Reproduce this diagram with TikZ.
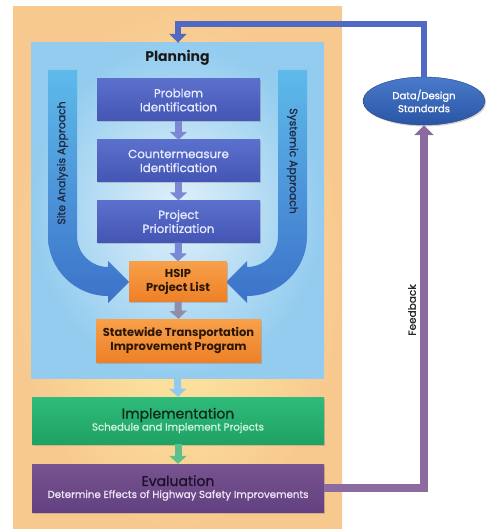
\documentclass[tikz,border=0pt]{standalone}
\usepackage{fontspec}
\setmainfont{Poppins}
\newfontfamily\medfont{Poppins}[FakeBold=1]
\usetikzlibrary{arrows.meta,shadows,shapes.geometric}
\definecolor{outerpeach}{HTML}{F8C98F}
\definecolor{outeryellow}{HTML}{FDF2A6}
\definecolor{planout}{HTML}{93CCEF}
\definecolor{planin}{HTML}{E2F1FA}
\definecolor{bluetop}{HTML}{5B70CC}
\definecolor{bluebot}{HTML}{4455B3}
\definecolor{bluetext}{HTML}{E6EAFF}
\definecolor{smallarr}{HTML}{7C88D4}
\definecolor{orangetop}{HTML}{F7A04A}
\definecolor{orangebot}{HTML}{EE8027}
\definecolor{orangetext}{HTML}{2B1705}
\definecolor{grayarr}{HTML}{8E8EA8}
\definecolor{lightbluearr}{HTML}{92C9EE}
\definecolor{greentop}{HTML}{2FBB7A}
\definecolor{greenbot}{HTML}{1FA264}
\definecolor{greentitle}{HTML}{0F2A1C}
\definecolor{greensub}{HTML}{D0F2DE}
\definecolor{greenarr}{HTML}{5DC08C}
\definecolor{purpletop}{HTML}{77538F}
\definecolor{purplebot}{HTML}{634080}
\definecolor{purpletitle}{HTML}{1C0F2A}
\definecolor{purplesub}{HTML}{EDE4F5}
\definecolor{feedline}{HTML}{8B6BA0}
\definecolor{topline}{HTML}{5069C2}
\definecolor{bandtop}{HTML}{5EBAEA}
\definecolor{bandbot}{HTML}{3C72C9}
\definecolor{elltop}{HTML}{4A7ACB}
\definecolor{ellbot}{HTML}{2A55A5}
\definecolor{labeltext}{HTML}{1E2A44}
\begin{document}
\begin{tikzpicture}[x=1pt,y=-1pt,
  boxshadow/.style={drop shadow={shadow xshift=1.2pt,shadow yshift=-1.5pt,opacity=0.35}},
  bluebox/.style={rectangle, minimum width=163pt, minimum height=42pt, top color=bluetop, bottom color=bluebot,
     text=bluetext, align=center, font=\medfont\fontsize{11.8}{14}\selectfont, boxshadow, inner sep=0pt},
  orangebox/.style={rectangle, top color=orangetop, bottom color=orangebot, text=orangetext, align=center,
     font=\fontsize{11.5}{14}\selectfont\bfseries, boxshadow, inner sep=0pt},
  stagebox/.style={rectangle, minimum width=292pt, minimum height=47pt, align=center, boxshadow, inner sep=0pt},
  fatarrow/.style={line width=7pt, -{Triangle[width=17pt,length=8pt]}},
  bandlabel/.style={text=labeltext, font=\medfont\fontsize{10.8}{12}\selectfont},
]
\useasboundingbox (0,0) rectangle (493,529);
% outer background
\shade[inner color=outeryellow, outer color=outerpeach] (13,7) rectangle (342,529);
% planning region
\node[rectangle, minimum width=293pt, minimum height=335pt, inner color=planin, outer color=planout, inner sep=0pt]
  (planning) at (177.5,210.5) {};
\node[font=\fontsize{14}{16}\selectfont\bfseries, text=black!90] (plantitle) at (177.5,58) {Planning};
% side bands
\shade[top color=bandtop, bottom color=bandbot]
  (48,70) -- (77,70) -- (77,236) .. controls (77,253.1) and (90.9,267) .. (108,267) -- (108,261) -- (129,282)
  -- (108,303) -- (108,296) .. controls (74.9,296) and (48,269.1) .. (48,236) -- cycle;
\shade[top color=bandtop, bottom color=bandbot]
  (307,70) -- (278,70) -- (278,236) .. controls (278,253.1) and (264.1,267) .. (247,267) -- (247,261) -- (226,282)
  -- (247,303) -- (247,296) .. controls (280.1,296) and (307,269.1) .. (307,236) -- cycle;
\node[bandlabel, rotate=90] (sitelab) at (62.5,163) {Site Analysis Approach};
\node[bandlabel, rotate=-90] (syslab) at (292.5,161) {Systemic Approach};
% process boxes
\node[bluebox] (prob) at (178.5,100) {Problem\\Identification};
\node[bluebox] (cm) at (178.5,161) {Countermeasure\\Identification};
\node[bluebox] (prio) at (178.5,221.5) {Project\\Prioritization};
\node[orangebox, minimum width=98pt, minimum height=40pt] (hsip) at (178,281.5) {HSIP\\Project List};
\node[orangebox, minimum width=165pt, minimum height=43pt] (stip) at (178.5,340.5) {Statewide Transportation\\Improvement Program};
\node[stagebox, top color=greentop, bottom color=greenbot] (impl) at (178,420.5)
  {\textcolor{greentitle}{\medfont\fontsize{14}{16}\selectfont Implementation}\\[0pt]
   \textcolor{greensub}{\medfont\fontsize{10.2}{11}\selectfont Schedule and Implement Projects}};
\node[stagebox, minimum height=48pt, top color=purpletop, bottom color=purplebot] (eval) at (178,488)
  {\textcolor{purpletitle}{\medfont\fontsize{14}{16}\selectfont Evaluation}\\[0pt]
   \textcolor{purplesub}{\medfont\fontsize{10.2}{11}\selectfont Determine Effects of Highway Safety Improvements}};
% arrows between boxes
\draw[fatarrow, smallarr] (prob.south) -- (cm.north);
\draw[fatarrow, smallarr] (cm.south) -- (prio.north);
\draw[fatarrow, smallarr] (prio.south) -- (hsip.north);
\draw[fatarrow, grayarr] (hsip.south) -- (stip.north);
\draw[fatarrow, lightbluearr] (planning.south) -- (impl.north);
\draw[fatarrow, greenarr] (impl.south) -- (eval.north);
% data/design standards ellipse
\node[ellipse, minimum width=122pt, minimum height=48pt, top color=elltop, bottom color=ellbot, draw=ellbot!80!black,
  text=white, align=center, font=\medfont\fontsize{10}{13}\selectfont, inner sep=0pt, boxshadow] (dds) at (424,101)
  {Data/Design\\Standards};
% feedback loop
\coordinate (tc) at (178,24.5);
\draw[line width=6pt, topline, -{Triangle[width=17pt,length=9pt]}] (dds.north) |- (tc) -- (planning.north -| tc);
\draw[line width=8pt, feedline, -{Triangle[width=19pt,length=10pt]}] (eval.east) -| (dds.south);
\node[rotate=90, font=\medfont\fontsize{10.5}{12}\selectfont, text=black!85] (fb) at (412,310) {Feedback};
\end{tikzpicture}
\end{document}
